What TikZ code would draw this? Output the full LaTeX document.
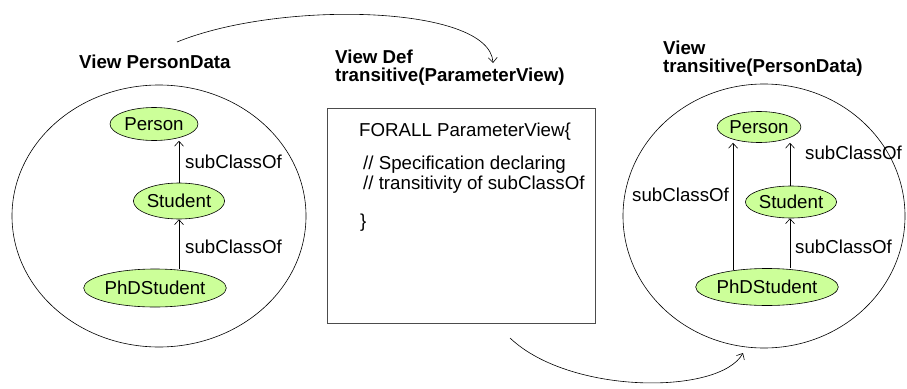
\documentclass[tikz,border=0pt]{standalone}
\usepackage{fontspec}
\setmainfont{Liberation Sans}
\usetikzlibrary{shapes.geometric,arrows.meta}
\definecolor{nodegreen}{RGB}{204,255,153}
\begin{document}
\begin{tikzpicture}[x=1pt,y=-1pt,
  txt/.style={font=\fontsize{18.7}{18}\selectfont, inner sep=0pt},
  ttl/.style={font=\fontsize{18.7}{18}\selectfont\bfseries, inner sep=0pt, align=left},
  cls/.style={ellipse, draw=black, fill=nodegreen, inner sep=0pt, line width=0.6pt,
              font=\fontsize{18.7}{18}\selectfont},
  view/.style={ellipse, draw=black, inner sep=0pt, line width=0.6pt},
  arr/.style={-{Straight Barb[length=5pt,width=9pt]}, line width=0.6pt},
  curve/.style={-{Straight Barb[length=5pt,width=9pt]}, line width=0.6pt}
]
\useasboundingbox (0,0) rectangle (907,388);

% ---- left view
\node[ttl, anchor=west] (t1) at (79,62) {View PersonData};
\node[view, minimum width=294, minimum height=262] (v1) at (159,216) {};
\node[cls, minimum width=88, minimum height=33] (lp) at (154,124) {Person};
\node[cls, minimum width=88, minimum height=36] (ls) at (179,201) {Student};
\node[cls, minimum width=134, minimum height=38] (lphd) at (155,288) {PhDStudent};
\draw[arr] (ls.north) -- (ls.north |- lp.south);
\draw[arr] (lphd.north -| ls.south) -- (ls.south);
\node[txt, anchor=west] (ll1) at (185,162) {subClassOf};
\node[txt, anchor=west] (ll2) at (185,247) {subClassOf};

% ---- middle definition
\node[ttl, anchor=west] (t2) at (335,67.5) {View Def\\transitive(ParameterView)};
\node[draw=black!70, line width=0.7pt, minimum width=268, minimum height=215, inner sep=0pt] (box) at (461,215.5) {};
\node[txt, anchor=west] (b1) at (359,132) {FORALL ParameterView\{};
\node[txt, anchor=west] (b2) at (363,165) {// Specification declaring};
\node[txt, anchor=west] (b3) at (363,185) {// transitivity of subClassOf};
\node[txt, anchor=west] (b4) at (360,223) {\}};

% ---- right view
\node[ttl, anchor=west] (t3) at (663,59) {View\\transitive(PersonData)};
\node[view, minimum width=282, minimum height=264] (v3) at (764,216) {};
\node[cls, minimum width=78, minimum height=31] (rp) at (759,127) {Person};
\node[cls, minimum width=88, minimum height=32] (rs) at (791,202) {Student};
\node[cls, minimum width=135, minimum height=37] (rphd) at (767,287) {PhDStudent};
\draw[arr] (rphd.154) -- (rphd.154 |- rp.south);
\draw[arr] (rs.north -| 790,0) -- (rp.south -| 790,0);
\draw[arr] (rphd.north -| 790,0) -- (rs.south -| 790,0);
\node[txt, anchor=west] (rl1) at (632,195) {subClassOf};
\node[txt, anchor=west] (rl2) at (805,153) {subClassOf};
\node[txt, anchor=west] (rl3) at (795,247) {subClassOf};

% ---- curved arrows
\coordinate (c1s) at (177,42);
\coordinate (c1e) at (493,63);
\draw[curve] (c1s) .. controls (280,0) and (490,5) .. (c1e);
\coordinate (c2s) at (510,338);
\coordinate (c2e) at (743,353);
\draw[curve] (c2s) .. controls (570,395) and (720,395) .. (c2e);
\end{tikzpicture}
\end{document}
